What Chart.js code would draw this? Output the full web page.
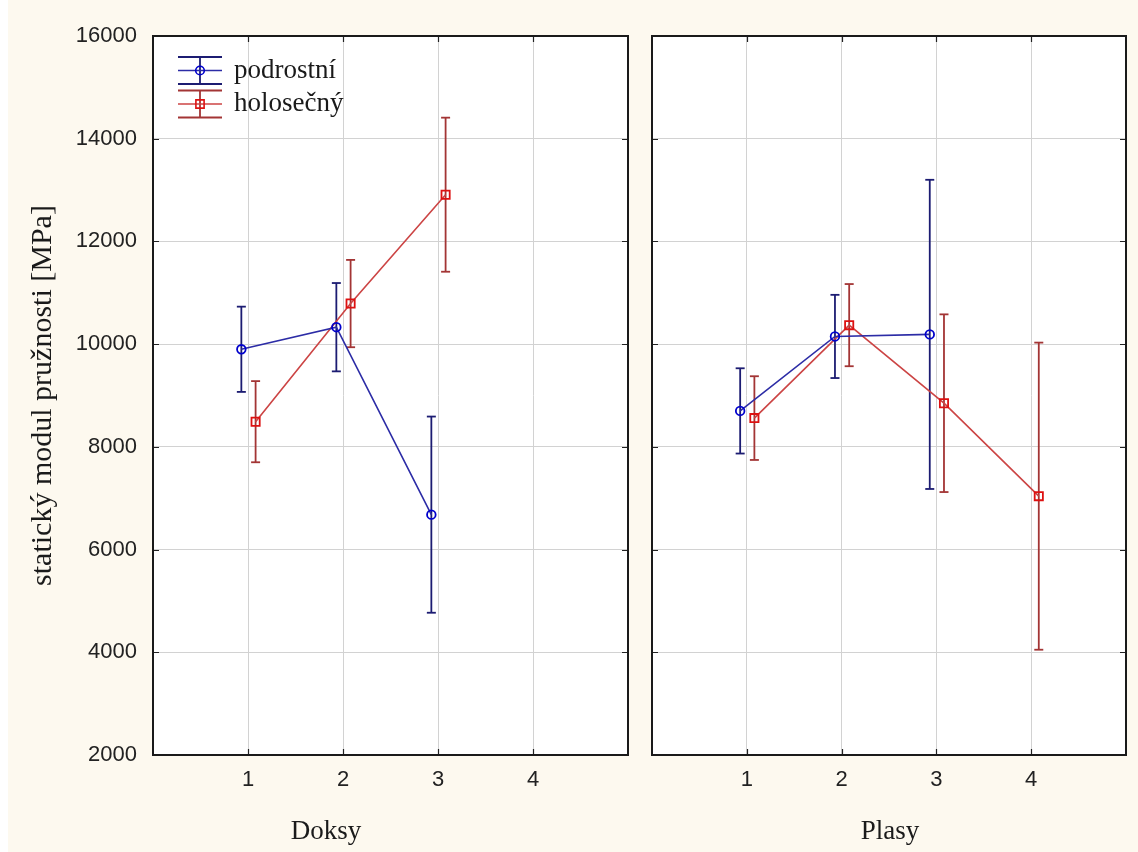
<!DOCTYPE html>
<html lang="cs">
<head>
<meta charset="utf-8">
<title>Statický modul pružnosti</title>
<script src="https://cdn.jsdelivr.net/npm/chart.js@4.4.1/dist/chart.umd.min.js"></script>
<style>
  html, body { margin: 0; padding: 0; background: #ffffff; }
  #stage { position: relative; width: 1138px; height: 852px; overflow: hidden; background: #fdf9ef; }
  #okraj { position: absolute; left: 0; top: 0; width: 8px; height: 852px; background: #ffffff; }
  #stage canvas { position: absolute; top: 0; }
  #levy { left: 0; }
  #pravy { left: 640px; }
</style>
</head>
<body>
<div id="stage">
  <div id="okraj"></div>
  <canvas id="levy" width="640" height="852"></canvas>
  <canvas id="pravy" width="498" height="852"></canvas>
</div>
<script>
// Kategorie na ose x a popisky osy y
const kategorie = [1, 2, 3, 4];
const hodnotyY = [2000, 4000, 6000, 8000, 10000, 12000, 14000, 16000];
const lokality = ['Doksy', 'Plasy'];
const nazvySerii = ['podrostní', 'holosečný'];
const popisekY = 'statický modul pružnosti [MPa]';

// Doksy - průměry a velikost chybových úseček
const podrostniDoksy = [9900, 10330, 6680];
const podrostniDoksyChyba = [830, 860, 1910];
const holosecnyDoksy = [8490, 10790, 12910];
const holosecnyDoksyChyba = [790, 850, 1500];

// Plasy
const podrostniPlasy = [8700, 10150, 10190];
const podrostniPlasyChyba = [830, 810, 3010];
const holosecnyPlasy = [8560, 10370, 8850, 7040];
const holosecnyPlasyChyba = [815, 800, 1730, 2990];

// Barvy a styly serií
const modra = { cara: '#2c2ca6', znacka: '#0000cc', chyba: '#1c1c72', styl: 'circle', polomer: 4.3, posun: -0.07 };
const cervena = { cara: '#cc4444', znacka: '#dd1111', chyba: '#a33535', styl: 'rect', polomer: 5.8, posun: 0.08 };

const pismoSerif = '"Liberation Serif", "Times New Roman", serif';
const pismoSans = '"Liberation Sans", Arial, sans-serif';

// Sestaví datasety jedné série: spojnice průměrů + chybové úsečky
function sestavSerii(nazev, prumery, chyby, b) {
  const body = prumery.map((m, i) => ({ x: kategorie[i] + b.posun, y: m }));
  const datasety = [{
    label: nazev,
    data: body,
    showLine: true,
    borderColor: b.cara,
    borderWidth: 1.6,
    pointStyle: b.styl,
    pointRadius: b.polomer,
    pointBorderColor: b.znacka,
    pointBackgroundColor: 'rgba(0,0,0,0)',
    pointBorderWidth: 1.8,
    order: 1
  }];
  prumery.forEach((m, i) => {
    datasety.push({
      label: nazev + ' chyba',
      data: [{ x: body[i].x, y: m - chyby[i] }, { x: body[i].x, y: m + chyby[i] }],
      showLine: true,
      borderColor: b.chyba,
      borderWidth: 1.8,
      pointStyle: 'line',
      pointRadius: 4.5,
      pointBorderColor: b.chyba,
      pointBorderWidth: 1.8,
      order: 2
    });
  });
  return datasety;
}

// Bílá plocha grafu, rámeček, vnitřní značky, název lokality a legenda
const dekorace = {
  id: 'dekorace',
  beforeDraw(chart) {
    const { ctx, chartArea: a } = chart;
    ctx.save();
    ctx.fillStyle = '#ffffff';
    ctx.fillRect(a.left, a.top, a.width, a.height);
    ctx.restore();
  },
  afterDraw(chart, args, opts) {
    const { ctx, chartArea: a, scales } = chart;
    ctx.save();
    // vnitřní značky
    ctx.strokeStyle = '#222';
    ctx.lineWidth = 1.2;
    ctx.beginPath();
    hodnotyY.forEach(v => {
      const y = Math.round(scales.y.getPixelForValue(v)) + 0.5;
      ctx.moveTo(a.left, y); ctx.lineTo(a.left + 6, y);
      ctx.moveTo(a.right - 6, y); ctx.lineTo(a.right, y);
    });
    kategorie.forEach(k => {
      const x = Math.round(scales.x.getPixelForValue(k)) + 0.5;
      ctx.moveTo(x, a.bottom); ctx.lineTo(x, a.bottom - 6);
      ctx.moveTo(x, a.top); ctx.lineTo(x, a.top + 6);
    });
    ctx.stroke();
    // rámeček
    ctx.strokeStyle = '#1a1a1a';
    ctx.lineWidth = 2;
    ctx.strokeRect(a.left, a.top, a.width, a.height);

    // název lokality pod osou
    ctx.fillStyle = '#1a1a1a';
    ctx.font = '27px ' + pismoSerif;
    ctx.textAlign = 'center';
    ctx.textBaseline = 'middle';
    ctx.fillText(opts.nazev, opts.nazevX, opts.nazevY);

    // legenda
    if (opts.legenda) {
      opts.legenda.forEach((b, i) => {
        const cy = 70.5 + i * 33.5;
        const x0 = 178, x1 = 222, xs = 200, h = 13.5;
        ctx.strokeStyle = b.chyba;
        ctx.lineWidth = 1.8;
        ctx.beginPath();
        ctx.moveTo(x0, cy - h); ctx.lineTo(x1, cy - h);
        ctx.moveTo(x0, cy + h); ctx.lineTo(x1, cy + h);
        ctx.moveTo(xs, cy - h); ctx.lineTo(xs, cy + h);
        ctx.stroke();
        ctx.strokeStyle = b.cara;
        ctx.lineWidth = 1.6;
        ctx.beginPath();
        ctx.moveTo(x0, cy); ctx.lineTo(x1, cy);
        ctx.stroke();
        ctx.strokeStyle = b.znacka;
        ctx.fillStyle = 'rgba(0,0,0,0)';
        Chart.helpers.drawPoint(ctx, { pointStyle: b.styl, radius: b.polomer, borderWidth: 1.8, rotation: 0 }, xs, cy);
        ctx.fillStyle = '#1a1a1a';
        ctx.font = '27px ' + pismoSerif;
        ctx.textAlign = 'left';
        ctx.fillText(nazvySerii[i], 234, cy);
      });
    }
    ctx.restore();
  }
};

function vytvorGraf(id, datasety, levy, nazevX, nazev) {
  return new Chart(document.getElementById(id), {
    type: 'scatter',
    data: { datasets: datasety },
    options: {
      responsive: false,
      animation: false,
      events: [],
      layout: { padding: { top: 36, right: levy ? 12 : 10, left: 0, bottom: 0 } },
      plugins: {
        legend: { display: false },
        tooltip: { enabled: false },
        dekorace: { nazev: nazev, nazevX: nazevX, nazevY: 832, legenda: levy ? [modra, cervena] : null }
      },
      scales: {
        x: {
          type: 'linear',
          min: 0,
          max: 5,
          afterFit: s => { s.height = 97; },
          ticks: {
            stepSize: 1,
            padding: 12,
            color: '#222',
            font: { family: pismoSans, size: 22 },
            callback: v => kategorie.includes(v) ? String(v) : ''
          },
          grid: { color: '#d2d2d2', lineWidth: 1, drawTicks: false },
          border: { display: false }
        },
        y: {
          type: 'linear',
          min: hodnotyY[0],
          max: hodnotyY[hodnotyY.length - 1],
          afterFit: s => { s.width = levy ? 153 : 12; },
          ticks: {
            display: levy,
            stepSize: hodnotyY[1] - hodnotyY[0],
            padding: 16,
            color: '#222',
            font: { family: pismoSans, size: 22 },
            callback: v => String(v)
          },
          grid: { color: '#d2d2d2', lineWidth: 1, drawTicks: false },
          border: { display: false },
          title: {
            display: levy,
            text: popisekY,
            color: '#1a1a1a',
            font: { family: pismoSerif, size: 30 },
            padding: { top: 25, bottom: 0 }
          }
        }
      }
    },
    plugins: [dekorace]
  });
}

const datasetyDoksy = [
  ...sestavSerii(nazvySerii[0], podrostniDoksy, podrostniDoksyChyba, modra),
  ...sestavSerii(nazvySerii[1], holosecnyDoksy, holosecnyDoksyChyba, cervena)
];
const datasetyPlasy = [
  ...sestavSerii(nazvySerii[0], podrostniPlasy, podrostniPlasyChyba, modra),
  ...sestavSerii(nazvySerii[1], holosecnyPlasy, holosecnyPlasyChyba, cervena)
];

vytvorGraf('levy', datasetyDoksy, true, 326, lokality[0]);
vytvorGraf('pravy', datasetyPlasy, false, 250, lokality[1]);
</script>
</body>
</html>
